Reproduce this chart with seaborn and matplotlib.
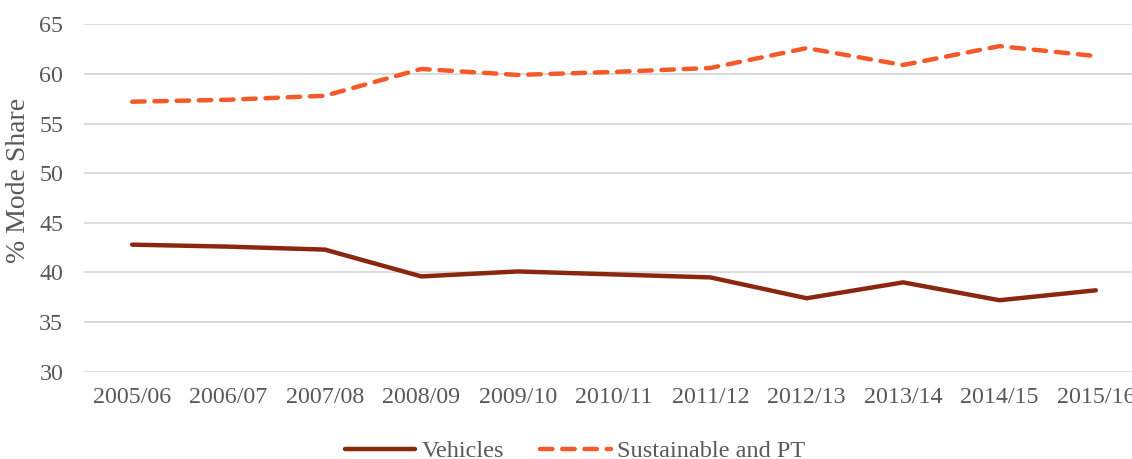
import matplotlib
matplotlib.use("Agg")
import matplotlib.pyplot as plt
import seaborn as sns
import pandas as pd

years = ["2005/06", "2006/07", "2007/08", "2008/09", "2009/10", "2010/11",
         "2011/12", "2012/13", "2013/14", "2014/15", "2015/16"]
vehicles = [42.8, 42.6, 42.3, 39.6, 40.1, 39.8, 39.5, 37.4, 39.0, 37.2, 38.2]
sustainable = [57.2, 57.4, 57.8, 60.5, 59.9, 60.2, 60.6, 62.6, 60.9, 62.8, 61.8]

sns.set_theme(style="white")
plt.rcParams["font.family"] = ["Liberation Serif", "DejaVu Serif"]

text_col = "#595959"
fs = 17.3
fig = plt.figure(figsize=(11.32, 4.59), dpi=100)
ax = fig.add_axes([84 / 1132, 1 - 371.7 / 459, (1144 - 84) / 1132, (371.7 - 24.3) / 459])

df = pd.DataFrame({"year": years, "idx": range(len(years)),
                   "Vehicles": vehicles, "Sustainable and PT": sustainable})

sns.lineplot(data=df, x="idx", y="Vehicles", ax=ax, color="#8B2710", lw=3.2,
             solid_capstyle="round", solid_joinstyle="round", label="Vehicles")
sns.lineplot(data=df, x="idx", y="Sustainable and PT", ax=ax, color="#F4592A", lw=3.2,
             label="Sustainable and PT")
l2 = ax.get_lines()[1]
l2.set_dashes((2.8, 2.2))
l2.set_dash_capstyle("round")

ax.set_xlim(-0.5, len(years) - 0.5)
ax.set_ylim(30, 65)
ax.set_yticks(range(30, 66, 5))
ax.set_xticks(range(len(years)))
ax.set_xticklabels(years)
ax.grid(axis="y", color="#D9D9D9", lw=1.3)
ax.set_axisbelow(True)
for s in ax.spines.values():
    s.set_visible(False)
ax.tick_params(axis="both", length=0, labelsize=fs, colors=text_col)
ax.tick_params(axis="y", pad=15)
ax.tick_params(axis="x", pad=11)
ax.set_xlabel("")
ax.set_ylabel("")
fig.text(19 / 1132, 1 - 180 / 459, "% Mode Share", rotation=90, ha="center",
         va="center", fontsize=20, color=text_col)

leg = ax.legend(loc="center", bbox_to_anchor=(575 / 1132, 1 - 451 / 459),
                bbox_transform=fig.transFigure, ncol=2, frameon=False,
                fontsize=17.5, handlelength=2.9, columnspacing=1.5, handletextpad=0.25)
for t in leg.get_texts():
    t.set_color(text_col)
for h in leg.get_lines():
    h.set_linewidth(3.2)

fig.savefig("out.png", dpi=100)
